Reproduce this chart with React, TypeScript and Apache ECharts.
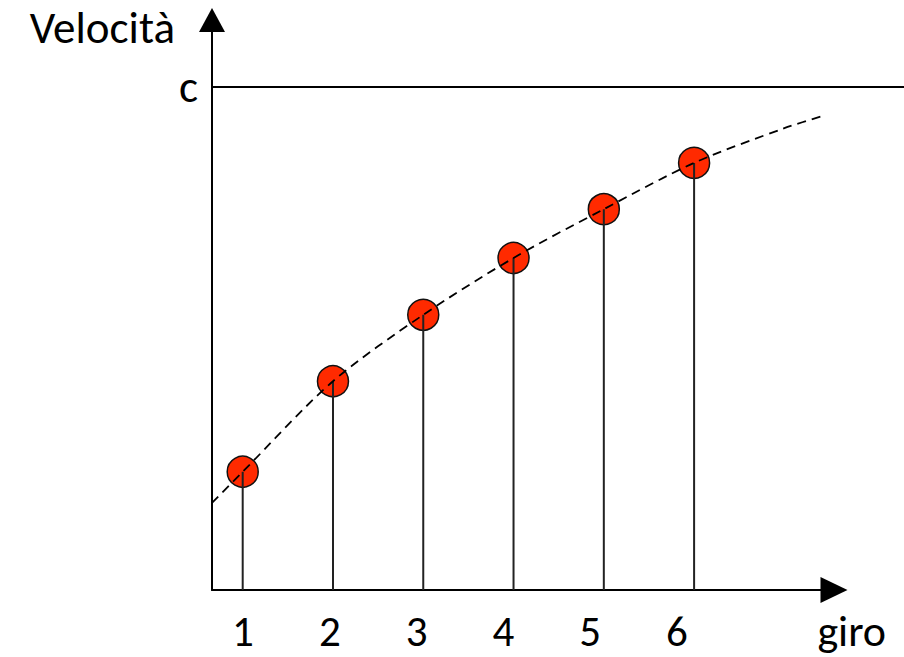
import React, { useEffect, useRef } from "react";
import * as echarts from "echarts";

const turns = [1, 2, 3, 4, 5, 6];
const speeds = [0.235, 0.415, 0.547, 0.66, 0.757, 0.849];
const trendX = [0.66, 1, 2, 3, 4, 5, 6, 7, 7.46];
const trendY = [0.173, 0.235, 0.415, 0.547, 0.66, 0.757, 0.849, 0.918, 0.944];
const tickLabels = ["1", "2", "3", "4", "5", "6"];
const lightSpeed = 1;

const FONT = "Carlito, Calibri, Lato, sans-serif";

export default function App() {
  const ref = useRef<HTMLDivElement>(null);
  useEffect(() => {
    if (!ref.current) return;
    const chart = echarts.init(ref.current, undefined, { renderer: "svg" });
    chart.setOption({
      animation: false,
      backgroundColor: "#ffffff",
      grid: [
        { left: 212, right: 0, top: 20, bottom: 67 },
        { left: 212, right: 70, top: 20, bottom: 67 },
        { left: 199.6, right: 183.6, top: 20, bottom: 26 },
      ],
      xAxis: [
        {
          gridIndex: 0,
          type: "value",
          min: 0.66,
          max: 8.325,
          axisLine: { show: false },
          axisTick: { show: false },
          axisLabel: { show: false },
          splitLine: { show: false },
        },
        {
          gridIndex: 1,
          type: "value",
          min: 0,
          max: 1,
          axisLine: {
            show: true,
            symbol: ["none", "triangle"],
            symbolSize: [26, 27],
            lineStyle: { color: "#000", width: 2 },
          },
          axisTick: { show: false },
          axisLabel: { show: false },
          splitLine: { show: false },
        },
        {
          gridIndex: 2,
          type: "category",
          data: tickLabels,
          boundaryGap: true,
          axisLine: { show: false },
          axisTick: { show: false },
          axisLabel: {
            margin: 0,
            verticalAlign: "middle",
            fontSize: 43,
            lineHeight: 44,
            fontFamily: FONT,
            color: "#000",
          },
          name: "giro",
          nameLocation: "end",
          nameGap: 97,
          nameTextStyle: {
            fontSize: 44,
            lineHeight: 46,
            fontFamily: FONT,
            color: "#000",
            verticalAlign: "middle",
          },
        },
      ],
      yAxis: [
        {
          gridIndex: 0,
          type: "value",
          min: 0,
          max: 1.133,
          interval: 1,
          axisLine: {
            show: true,
            symbol: ["none", "triangle"],
            symbolSize: [26, 24],
            lineStyle: { color: "#000", width: 2 },
          },
          axisTick: { show: false },
          splitLine: { show: false },
          axisLabel: {
            margin: 14,
            fontSize: 45,
            fontFamily: FONT,
            color: "#000",
            formatter: (v: number) => (v === lightSpeed ? "c" : ""),
          },
          name: "Velocità",
          nameLocation: "end",
          nameGap: 19,
          nameTextStyle: {
            fontSize: 45,
            lineHeight: 53,
            fontFamily: FONT,
            color: "#000",
            align: "right",
            verticalAlign: "top",
            padding: [0, 37, 0, 0],
          },
        },
        { gridIndex: 1, type: "value", show: false, min: 0, max: 1 },
        { gridIndex: 2, type: "value", show: false, min: 0, max: 1 },
      ],
      series: [
        {
          type: "scatter",
          xAxisIndex: 0,
          yAxisIndex: 0,
          z: 2,
          symbolSize: 31,
          data: turns.map((t, i) => [t, speeds[i]]),
          itemStyle: { color: "#ff2a00", borderColor: "#111", borderWidth: 1.5, opacity: 1 },
          markLine: {
            silent: true,
            symbol: "none",
            label: { show: false },
            lineStyle: { color: "#000", width: 2, type: "solid" },
            data: [{ yAxis: lightSpeed }],
          },
        },
        {
          type: "bar",
          xAxisIndex: 0,
          yAxisIndex: 0,
          z: 3,
          barWidth: 2,
          data: turns.map((t, i) => [t, speeds[i]]),
          itemStyle: { color: "#222" },
        },
        {
          type: "line",
          xAxisIndex: 0,
          yAxisIndex: 0,
          z: 4,
          smooth: 0.3,
          symbol: "none",
          data: trendX.map((x, i) => [x, trendY[i]]),
          lineStyle: { color: "#000", width: 1.8, type: [9, 6] },
        },
      ],
    });
    return () => chart.dispose();
  }, []);
  return <div ref={ref} style={{ width: 904, height: 657, position: "absolute", left: 0, top: 0 }} />;
}
